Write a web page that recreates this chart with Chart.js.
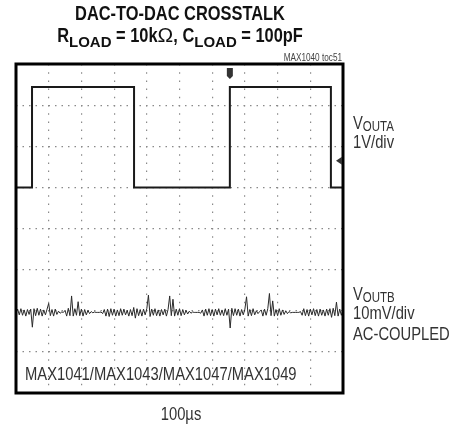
<!DOCTYPE html>
<html lang="en">
<head>
<meta charset="UTF-8">
<title>DAC-to-DAC crosstalk</title>
<script src="https://cdn.jsdelivr.net/npm/chart.js"></script>
<style>
  body { margin: 0; background: #fff; }
  canvas { display: block; }
</style>
</head>
<body>
<canvas id="chart" width="457" height="428"></canvas>
<script>
// scope screen: 10 x 8 divisions, time in divisions (100us/div)
const timeDivs = 10
const levelDivs = 4

// VOUTA square wave, 1V/div, levels in divisions from screen centre
const voutaTime = [0, 0.49, 0.49, 3.61, 3.61, 6.54, 6.54, 9.63, 9.63, 10]
const voutaLevel = [1, 1, 3.44, 3.44, 1, 1, 3.44, 3.44, 1, 1]

// VOUTB crosstalk, 10mV/div AC-coupled, one sample every 0.05 div (mV)
const voutbStep = 0.05
const voutbOffset = -2.04
const voutbMv = [
  0, 0.8, -0.6, 0.9, -0.7, 0.6, -0.9, 0.7, -0.5, 0.8, -3.6, 0.9, -0.8, 1.0, -0.7, 0.8, -0.9, 0.6, -0.6, 0.8,
  2.2, -0.8, 0.7, -0.9, 0.8, -0.5, 0.3, -0.2, 0.1, 0, 0.5, -0.9, 1.0, -0.8, 4.0, -0.9, 0.9, -0.7, 2.6, -0.8,
  0.8, -0.9, 0.7, -0.6, 0.5, -0.3, 0.2, -0.1, 0.1, 0, 0, 0, 0.1, -0.3, 0.7, -0.9, 0.8, -1.0, 0.9, -0.7,
  0.8, -0.9, 0.6, -0.8, 0.9, -0.7, 0.8, -0.6, 0.5, -0.9, 0.7, -0.8, 1.2, -1.4, 0.9, -0.8, 0.7, -0.9, 0.8, -0.6,
  0.9, 4.2, -1.0, 0.8, -0.7, 0.9, -0.8, 0.6, -0.9, 0.7, -0.6, 0.8, -0.9, 0.7, 4.0, -0.8, 3.2, -0.9, 0.8, -0.7,
  0.9, -0.8, 0.7, -0.6, 0.5, -0.4, 0.3, -0.2, 0.1, 0, 0, 0, 0, -0.2, 0.6, -0.9, 0.8, -0.7, 0.9, -0.8,
  0.7, -0.9, 0.8, -0.6, 0.9, -0.7, 0.6, -0.8, 0.9, -0.7, 0.8, -3.8, 1.0, -0.8, 0.9, -0.7, 0.8, -0.9, 0.7, -0.6,
  0.8, 3.8, -0.9, 0.7, -0.8, 0.9, -0.6, 0.4, -0.3, 0.2, 0.6, -0.9, 0.8, -0.7, 0.9, 4.6, -0.8, 2.8, -0.9, 0.7,
  -0.8, 0.9, -0.7, 0.6, -0.5, 0.4, -0.3, 0.2, -0.1, 0, 0, 0, 0, 0, 0.2, -0.7, 0.9, -0.8, 0.7, -0.9,
  0.8, -0.6, 0.9, -0.8, 0.7, -0.9, 0.8, -0.7, 0.6, -0.9, 0.8, -0.7, 0.9, -1.2, 1.0, -0.8, 2.5, -0.9, 0.8, -0.7,
  0.6
]

// trigger point markers (time and level in divisions)
const triggerTime = 6.54
const triggerLevel = 1.65

// no narrow face installed, so Liberation Sans is squeezed horizontally
const face = '"Liberation Sans", Arial, sans-serif'
const squeeze = 0.82

const voutaPoints = voutaTime.map((t, i) => ({ x: t, y: voutaLevel[i] }))
const voutbPoints = voutbMv.map((mv, i) => ({ x: i * voutbStep, y: voutbOffset + mv / 10 }))

// draws a run of text pieces (some lowered as subscripts); each piece can
// carry its own horizontal squeeze
function drawRuns(ctx, runs, x, y, align) {
  const widths = runs.map(r => {
    ctx.font = r.font
    return ctx.measureText(r.text).width * (r.sx || squeeze)
  })
  const total = widths.reduce((s, w) => s + w, 0)
  let cx = x
  if (align === 'center') cx = x - total / 2
  if (align === 'right') cx = x - total
  ctx.textAlign = 'left'
  runs.forEach((r, i) => {
    ctx.save()
    ctx.translate(cx, y + (r.dy || 0))
    ctx.scale(r.sx || squeeze, 1)
    ctx.font = r.font
    ctx.fillText(r.text, 0, 0)
    ctx.restore()
    cx += widths[i]
  })
}

function drawText(ctx, text, font, x, y, align) {
  drawRuns(ctx, [{ text, font }], x, y, align)
}

const scopeDecor = {
  id: 'scopeDecor',
  afterDraw(chart) {
    const { ctx, chartArea: a, scales } = chart
    ctx.save()

    // heavy screen frame
    ctx.strokeStyle = '#000'
    ctx.lineWidth = 3
    ctx.strokeRect(a.left, a.top, a.right - a.left, a.bottom - a.top)

    // trigger time marker on top edge
    const tx = scales.x.getPixelForValue(triggerTime)
    ctx.fillStyle = '#333'
    ctx.beginPath()
    ctx.moveTo(tx - 3, a.top + 4)
    ctx.lineTo(tx + 3, a.top + 4)
    ctx.lineTo(tx + 3, a.top + 12)
    ctx.lineTo(tx, a.top + 15)
    ctx.lineTo(tx - 3, a.top + 12)
    ctx.closePath()
    ctx.fill()

    // trigger level marker on right edge
    const ty = scales.y.getPixelForValue(triggerLevel)
    ctx.beginPath()
    ctx.moveTo(a.right - 7, ty)
    ctx.lineTo(a.right - 1, ty - 4)
    ctx.lineTo(a.right - 1, ty + 4)
    ctx.closePath()
    ctx.fill()

    ctx.textBaseline = 'alphabetic'

    // title
    ctx.fillStyle = '#111'
    const big = 'bold 20px ' + face
    const small = 'bold 15px ' + face
    drawText(ctx, 'DAC-TO-DAC CROSSTALK', big, 180, 20, 'center')
    drawRuns(ctx, [
      { text: 'R', font: big },
      { text: 'LOAD', font: small, dy: 5, sx: 1 },
      { text: ' = 10k', font: big },
      { text: 'Ω', font: '21px ' + face, sx: 1 },
      { text: ', C', font: big },
      { text: 'LOAD', font: small, dy: 5, sx: 1 },
      { text: ' = 100pF', font: big }
    ], 180, 42, 'center')

    ctx.fillStyle = '#444'
    drawText(ctx, 'MAX1040 toc51', '10px ' + face, a.right - 1, 61, 'right')

    // channel labels
    ctx.fillStyle = '#333'
    const lab = '18px ' + face
    const sub = '14px ' + face
    drawRuns(ctx, [{ text: 'V', font: lab }, { text: 'OUTA', font: sub, dy: 2 }], 353, 129)
    drawText(ctx, '1V/div', lab, 353, 148)
    drawRuns(ctx, [{ text: 'V', font: lab }, { text: 'OUTB', font: sub, dy: 2 }], 353, 300)
    drawText(ctx, '10mV/div', lab, 353, 319)
    drawText(ctx, 'AC-COUPLED', lab, 353, 340)

    drawText(ctx, 'MAX1041/MAX1043/MAX1047/MAX1049', lab, 25, 380)
    drawText(ctx, '100µs', lab, 181, 420, 'center')

    ctx.restore()
  }
}

new Chart(document.getElementById('chart'), {
  type: 'line',
  data: {
    datasets: [
      {
        label: 'VOUTA',
        data: voutaPoints,
        borderColor: '#1a1a1a',
        borderWidth: 2,
        pointRadius: 0,
        tension: 0
      },
      {
        label: 'VOUTB',
        data: voutbPoints,
        borderColor: '#2a2a2a',
        borderWidth: 1,
        pointRadius: 0,
        tension: 0
      }
    ]
  },
  options: {
    responsive: false,
    animation: false,
    layout: { padding: { left: 16, top: 64, right: 114, bottom: 35 } },
    plugins: { legend: { display: false }, tooltip: { enabled: false } },
    scales: {
      x: {
        type: 'linear',
        min: 0,
        max: timeDivs,
        ticks: { display: false, stepSize: 1 },
        grid: { color: '#8a8a8a', lineWidth: 1.2, drawTicks: false },
        border: { display: false, dash: [1.5, 6.7] }
      },
      y: {
        type: 'linear',
        min: -levelDivs,
        max: levelDivs,
        ticks: { display: false, stepSize: 1 },
        grid: { color: '#8a8a8a', lineWidth: 1.2, drawTicks: false },
        border: { display: false, dash: [1.5, 5.0] }
      }
    }
  },
  plugins: [scopeDecor]
})
</script>
</body>
</html>
